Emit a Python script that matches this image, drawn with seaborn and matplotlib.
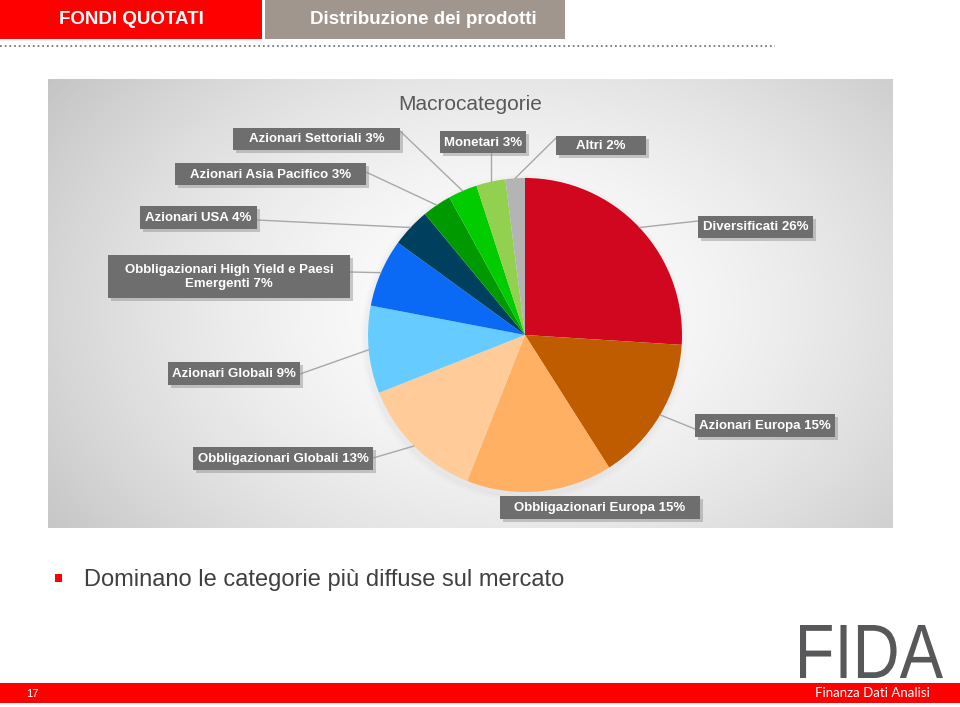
import numpy as np
import matplotlib
matplotlib.use("Agg")
import matplotlib.pyplot as plt
import seaborn as sns
from matplotlib.patches import Rectangle, PathPatch, Circle
from matplotlib.textpath import TextPath
from matplotlib.font_manager import FontProperties
import matplotlib.transforms as mtrans

# ---------------- data ----------------
categories = ["Diversificati", "Azionari Europa", "Obbligazionari Europa",
              "Obbligazionari Globali", "Azionari Globali",
              "Obbligazionari High Yield e Paesi Emergenti", "Azionari USA",
              "Azionari Asia Pacifico", "Azionari Settoriali", "Monetari", "Altri"]
values = [26, 15, 15, 13, 9, 7, 4, 3, 3, 3, 2]
slice_colors = ["#D0071F", "#C05C00", "#FFB062", "#FFCC99", "#66CCFF",
                "#0A6AF5", "#00405F", "#009A00", "#00CC00", "#92D050", "#B4B4B4"]
chart_title = "Macrocategorie"
header_left = "FONDI QUOTATI"
header_right = "Distribuzione dei prodotti"
bullet_text = "Dominano le categorie più diffuse sul mercato"
page_number = "17"

# ---------------- layout (pixel boxes of labels) ----------------
label_boxes = [
    ((698, 216, 813, 238), (698, 221)),
    ((695, 414, 835, 437), (695, 429)),
    ((500, 496, 700, 519), None),
    ((193, 447, 373, 470), (373, 458)),
    ((168, 362, 300, 385), (300, 374)),
    ((108, 255, 350, 298), (350, 272)),
    ((140, 206, 257, 229), (257, 220)),
    ((175, 163, 366, 185), (366, 172)),
    ((233, 128, 400, 150), (400, 131)),
    ((440, 131, 526, 153), "vertical"),
    ((556, 136, 646, 155), (556, 138)),
]

W, H = 960, 707
PIE_C = (525, 335)
PIE_R = 157

sns.set_theme(style="white")
plt.rcParams["font.family"] = ["Liberation Sans", "DejaVu Sans"]
palette = sns.color_palette(slice_colors)

fig = plt.figure(figsize=(W / 100, H / 100), dpi=100)
fig.patch.set_facecolor("white")

ax = fig.add_axes([0, 0, 1, 1])
ax.set_xlim(0, W)
ax.set_ylim(H, 0)
ax.axis("off")

# header
ax.add_patch(Rectangle((0, 0), 262, 39, fc="#FF0000", ec="none"))
ax.add_patch(Rectangle((265, 0), 300, 39, fc="#A0968E", ec="none"))
ax.text(131, 19, header_left, ha="center", va="center", color="white",
        fontsize=13.5, fontweight="bold")
ax.text(423, 19, header_right, ha="center", va="center", color="white",
        fontsize=13.5, fontweight="bold")
ax.plot([0, 775], [46, 46], linestyle=(0, (1, 1.6)), color="#7a7a7a", lw=1.3)

# chart background with radial gradient
x0, x1, y0, y1 = 48, 893, 79, 528
gx = np.linspace(x0, x1, 400)
gy = np.linspace(y0, y1, 220)
GX, GY = np.meshgrid(gx, gy)
d = np.sqrt(((GX - 510) / 470) ** 2 + ((GY - 310) / 330) ** 2)
val = 1 - 0.17 * d ** 1.6
img = np.dstack([val, val, val])
ax.imshow(np.clip(img, 0, 1), extent=(x0, x1, y1, y0), origin="upper",
          aspect="auto", interpolation="bilinear", zorder=0)
ax.set_xlim(0, W)
ax.set_ylim(H, 0)

ax.text(470, 104, chart_title, ha="center", va="center", fontsize=15,
        color="#595959")

# subtle soft shadow behind pie
for r, a in [(163, 0.025), (160, 0.035)]:
    ax.add_patch(Circle((PIE_C[0] - 1, PIE_C[1] + 3), r, fc="#606060",
                        ec="none", alpha=a, zorder=1))

# bullet text
ax.add_patch(Rectangle((55, 574), 7, 8, fc="#FF0000", ec="none"))
ax.text(84, 580, bullet_text, ha="left", va="center", fontsize=17,
        color="#404040")

# bottom bar
ax.add_patch(Rectangle((0, 683), W, 20, fc="#FF0000", ec="none"))
ax.text(32, 694, page_number, ha="center", va="center", color="white",
        fontsize=8)
ax.text(872, 693, "Finanza Dati Analisi", ha="center", va="center",
        color="white", fontsize=9.5, family=["Lato", "DejaVu Sans"])

# FIDA logo
tp = TextPath((0, 0), "FIDA", size=1, prop=FontProperties(family="Liberation Sans"))
bb = tp.get_extents()
sx = 143 / bb.width
sy = 53 / bb.height
tr = mtrans.Affine2D().scale(sx, -sy).translate(800 - bb.x0 * sx, 678 + bb.y0 * sy)
ax.add_patch(PathPatch(tr.transform_path(tp), fc="#58585A", ec="none"))

# pie axes
pax = fig.add_axes([(PIE_C[0] - 160) / W, (H - PIE_C[1] - 160) / H, 320 / W, 320 / H])
wedges, _ = pax.pie(values, colors=palette, startangle=90, counterclock=False,
                    radius=PIE_R, wedgeprops=dict(linewidth=0))
pax.set_xlim(-160, 160)
pax.set_ylim(-160, 160)
pax.axis("off")

# overlay axes for leader lines and labels
ox = fig.add_axes([0, 0, 1, 1])
ox.set_xlim(0, W)
ox.set_ylim(H, 0)
ox.axis("off")
ox.patch.set_alpha(0)

to_px = pax.transData + ox.transData.inverted()

for cat, v, w, (box, anchor) in zip(categories, values, wedges, label_boxes):
    text = f"{cat} {v}%"
    if "e Paesi Emergenti" in cat:
        text = text.replace("e Paesi Emergenti", "e Paesi\nEmergenti")
    bx0, by0, bx1, by1 = box
    th = np.deg2rad((w.theta1 + w.theta2) / 2)
    px, py = to_px.transform((PIE_R * np.cos(th), PIE_R * np.sin(th)))
    if anchor is not None:
        ax_pt = (px, by1) if anchor == "vertical" else anchor
        ox.plot([px, ax_pt[0]], [py, ax_pt[1]], color="#A8A8A8", lw=1.0, zorder=1)
    ox.add_patch(Rectangle((bx0 + 3, by0 + 3), bx1 - bx0, by1 - by0,
                           fc="#8c8c8c", ec="none", alpha=0.45, zorder=2))
    ox.add_patch(Rectangle((bx0, by0), bx1 - bx0, by1 - by0,
                           fc="#6E6E6E", ec="none", zorder=3))
    ox.text((bx0 + bx1) / 2, (by0 + by1) / 2 + 0.5, text, ha="center",
            va="center", color="white", fontsize=9.5, fontweight="bold",
            linespacing=1.15, zorder=4)

fig.savefig("out.png", dpi=100)
